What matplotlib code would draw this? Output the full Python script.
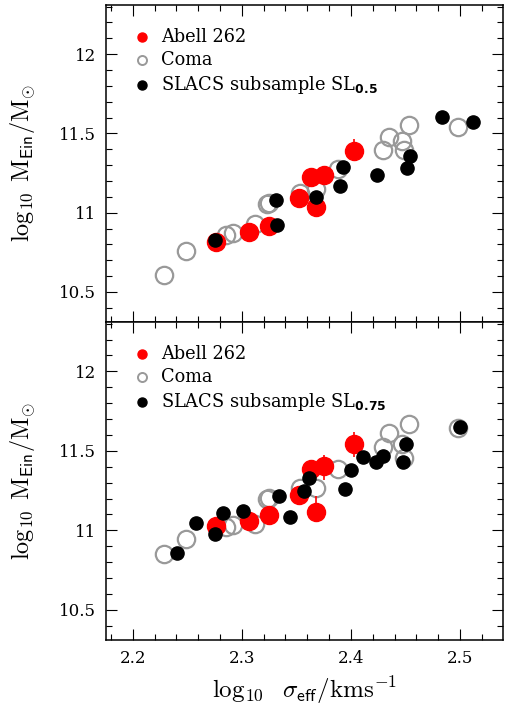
"""
Einstein mass vs velocity dispersion for Abell 262, Coma and the SLACS
subsamples, two stacked panels sharing the x axis.
"""

import matplotlib
matplotlib.use("Agg")
import matplotlib.pyplot as plt
from matplotlib.ticker import MultipleLocator

plt.rcParams["font.family"] = ["DejaVu Serif"]

# ---- top panel (SL_0.5) ----
a262_sig_top = [2.276, 2.307, 2.325, 2.3525, 2.368, 2.3635, 2.3757, 2.4028]
a262_m_top = [10.815, 10.881, 10.917, 11.094, 11.034, 11.225, 11.236, 11.388]
a262_err_lo_top = [0.03, 0.03, 0.03, 0.03, 0.03, 0.03, 0.03, 0.04]
a262_err_hi_top = [0.03, 0.03, 0.03, 0.03, 0.03, 0.03, 0.03, 0.075]

coma_sig = [2.229, 2.249, 2.2856, 2.2918, 2.3122, 2.3229, 2.325, 2.3534,
            2.368, 2.3879, 2.4291, 2.4352, 2.4465, 2.4487, 2.4535, 2.4984]
coma_m_top = [10.606, 10.759, 10.861, 10.871, 10.929, 11.052, 11.061, 11.127,
              11.152, 11.273, 11.398, 11.475, 11.45, 11.398, 11.554, 11.54]

slacs_sig_top = [2.2756, 2.3311, 2.332, 2.368, 2.39, 2.393, 2.4242, 2.4511,
                 2.4541, 2.4837, 2.5121]
slacs_m_top = [10.829, 11.079, 10.923, 11.10, 11.169, 11.29, 11.24, 11.279,
               11.36, 11.602, 11.573]

# ---- bottom panel (SL_0.75) ----
a262_sig_bot = [2.2765, 2.3067, 2.3253, 2.3525, 2.368, 2.3635, 2.3757, 2.4028]
a262_m_bot = [11.03, 11.056, 11.094, 11.223, 11.115, 11.386, 11.404, 11.54]
a262_err_lo_bot = [0.03, 0.03, 0.03, 0.03, 0.03, 0.03, 0.09, 0.08]
a262_err_hi_bot = [0.03, 0.03, 0.03, 0.03, 0.10, 0.03, 0.07, 0.08]

coma_m_bot = [10.848, 10.946, 11.019, 11.036, 11.04, 11.198, 11.206, 11.265,
              11.265, 11.386, 11.525, 11.609, 11.54, 11.456, 11.667, 11.644]

slacs_sig_bot = [2.2405, 2.2579, 2.2756, 2.2826, 2.3015, 2.3344, 2.3442,
                 2.3573, 2.3619, 2.3946, 2.3998, 2.4108, 2.423, 2.4297,
                 2.4475, 2.4505, 2.50]
slacs_m_bot = [10.859, 11.046, 10.979, 11.109, 11.119, 11.217, 11.081, 11.25,
               11.328, 11.261, 11.38, 11.46, 11.431, 11.467, 11.431, 11.54,
               11.65]

XLIM = (2.1755, 2.5395)
YLIM = (10.31, 12.31)
GREY = "#999999"


def style_axes(ax, show_xlabels):
    ax.set_xlim(*XLIM)
    ax.set_ylim(*YLIM)
    ax.xaxis.set_major_locator(MultipleLocator(0.1))
    ax.xaxis.set_minor_locator(MultipleLocator(0.02))
    ax.yaxis.set_minor_locator(MultipleLocator(0.1))
    ax.set_yticks([10.5, 11, 11.5, 12])
    ax.set_yticklabels(["10.5", "11", "11.5", "12"])
    ax.tick_params(which="both", direction="in", top=True, right=True,
                   width=0.8, labelsize=12)
    ax.tick_params(which="major", length=8, pad=7)
    ax.tick_params(which="minor", length=4)
    if not show_xlabels:
        ax.tick_params(labelbottom=False)
    for sp in ax.spines.values():
        sp.set_linewidth(1.1)
    ax.set_ylabel(r"$\log_{10}\;\mathrm{M}_{\mathsf{Ein}}/\mathrm{M}_{\odot}$",
                  fontsize=17.5, math_fontfamily="cm", va="center")
    ax.yaxis.set_label_coords(-0.211, 0.5)


def draw_panel(ax, a_sig, a_m, a_lo, a_hi, c_m, s_sig, s_m, sub):
    ax.plot(coma_sig, c_m, "o", ms=12.5, mfc="none", mec=GREY, mew=1.6,
            zorder=2)
    ax.errorbar(a_sig, a_m, yerr=[a_lo, a_hi], fmt="o", ms=13, color="red",
                ecolor="red", elinewidth=1.2, capsize=0, zorder=3)
    ax.plot(s_sig, s_m, "o", ms=9.5, color="black", zorder=4)

    # legend drawn by hand in axes coordinates
    rows = [0.90, 0.826, 0.749]
    ax.plot(0.09, rows[0], "o", ms=6.5, color="red", transform=ax.transAxes)
    ax.plot(0.09, rows[1], "o", ms=6.5, mfc="none", mec=GREY, mew=1.4,
            transform=ax.transAxes)
    ax.plot(0.09, rows[2], "o", ms=6.5, color="black", transform=ax.transAxes)
    labels = ["Abell 262", "Coma",
              r"SLACS subsample SL$_{\mathbf{" + sub + "}}$"]
    for y, lab in zip(rows, labels):
        ax.text(0.138, y, lab, transform=ax.transAxes, fontsize=12.8,
                va="center", ha="left", math_fontfamily="dejavusans")


fig = plt.figure(figsize=(5.08, 7.09), dpi=100)
ax_top = fig.add_axes([0.2087, 0.5458, 0.7815, 0.4471])
ax_bot = fig.add_axes([0.2087, 0.0973, 0.7815, 0.4485])

draw_panel(ax_top, a262_sig_top, a262_m_top, a262_err_lo_top, a262_err_hi_top,
           coma_m_top, slacs_sig_top, slacs_m_top, "0.5")
draw_panel(ax_bot, a262_sig_bot, a262_m_bot, a262_err_lo_bot, a262_err_hi_bot,
           coma_m_bot, slacs_sig_bot, slacs_m_bot, "0.75")

style_axes(ax_top, show_xlabels=False)
style_axes(ax_bot, show_xlabels=True)
ax_bot.set_xlabel(r"$\log_{10}\ \ \sigma_{\mathsf{eff}}/\mathrm{kms}^{-1}$",
                  fontsize=18, math_fontfamily="cm", va="center")
ax_bot.xaxis.set_label_coords(0.5, -0.157)

fig.savefig("out.png", dpi=100)
